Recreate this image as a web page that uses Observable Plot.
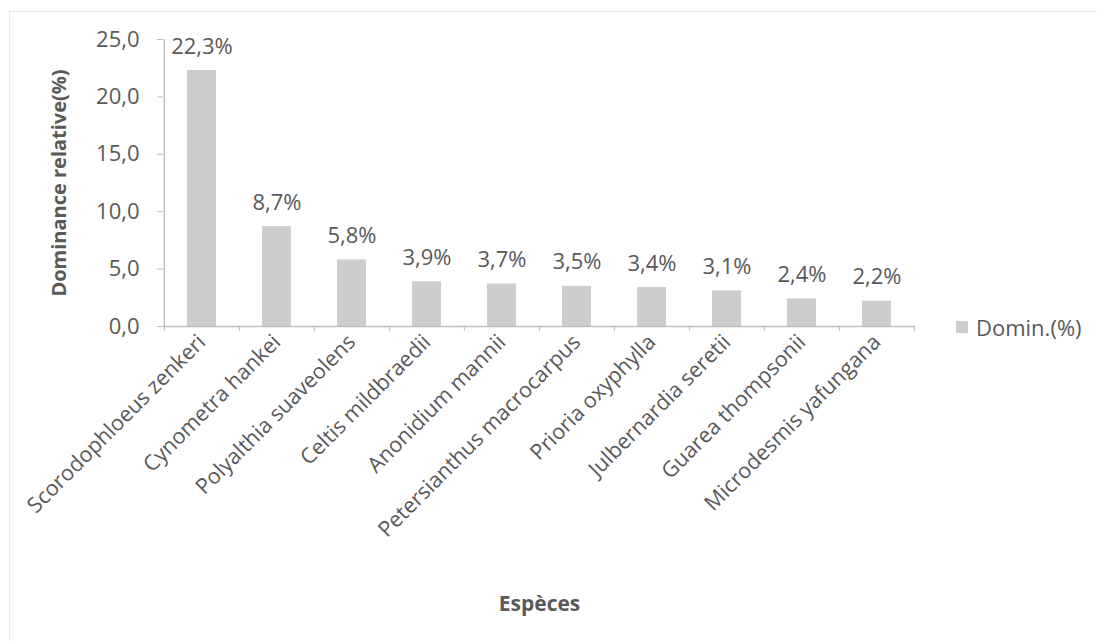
<!DOCTYPE html>
<html>
<head>
<meta charset="utf-8">
<script src="https://cdn.jsdelivr.net/npm/d3@7"></script>
<script src="https://cdn.jsdelivr.net/npm/@observablehq/plot@0.6"></script>
<style>
  html, body { margin: 0; padding: 0; background: #fff; }
  #wrap { position: relative; width: 1099px; height: 643px; overflow: hidden; font-family: "Open Sans", sans-serif; }
  #border { position: absolute; left: 9px; top: 11px; right: 2px; bottom: 2px; border-top: 1px solid #e2e2e2; border-left: 1px solid #e8e8e8; }
  #legend { position: absolute; left: 956px; top: 312px; display: flex; align-items: center; gap: 8px; color: #595959; font-size: 22px; }
  #legend .sw { width: 12px; height: 12px; background: #cdcdcd; }
  svg text { font-family: "Open Sans", sans-serif; }
  g[aria-label="y-axis label"] text { font-weight: bold; font-size: 20px; }
  g[aria-label="x-axis label"] text { font-weight: bold; font-size: 21px; }
</style>
</head>
<body>
<div id="wrap">
  <div id="border"></div>
  <div id="chart"></div>
  <div id="legend"><div class="sw"></div><span>Domin.(%)</span></div>
</div>
<script>
const species = [
  "Scorodophloeus zenkeri", "Cynometra hankei", "Polyalthia suaveolens", "Celtis mildbraedii",
  "Anonidium mannii", "Petersianthus macrocarpus", "Prioria oxyphylla", "Julbernardia seretii",
  "Guarea thompsonii", "Microdesmis yafungana"
];
const values = [22.3, 8.7, 5.8, 3.9, 3.7, 3.5, 3.4, 3.1, 2.4, 2.2];
const yTicks = [0, 5, 10, 15, 20, 25];
const seriesName = "Domin.(%)";
const yLabel = "Dominance relative(%)";
const xLabel = "Espèces";

const data = species.map((s, i) => ({species: s, value: values[i]}));
const fmt = d => d.toFixed(1).replace(".", ",");

const W = 1099, H = 643, ML = 163, MR = 184, MT = 39, MB = 317;
const step = (W - ML - MR) / species.length;
const textColor = "#595959";
const axisColor = "#bfbfbf";

const chart = Plot.plot({
  width: W, height: H,
  marginLeft: ML, marginRight: MR, marginTop: MT, marginBottom: MB,
  style: {fontSize: "22px", color: textColor, background: "transparent", overflow: "visible"},
  x: {type: "band", domain: species, paddingInner: 0.61, paddingOuter: 0.305},
  y: {domain: [0, 25]},
  marks: [
    Plot.barY(data, {x: "species", y: "value", fill: "#cdcdcd"}),
    Plot.text(data, {x: "species", y: "value", text: d => fmt(d.value) + "%", dy: -24, fill: textColor, fontSize: 22}),
    Plot.ruleY([0], {stroke: axisColor, strokeWidth: 1.5}),
    Plot.ruleX([species[0]], {x: d => d, dx: -step / 2, y1: 0, y2: 25, stroke: axisColor, strokeWidth: 1.5}),
    Plot.ruleX(species, {x: d => d, dx: -step / 2, y1: 0, y2: -0.45, stroke: axisColor}),
    Plot.ruleX([species[species.length - 1]], {x: d => d, dx: step / 2, y1: 0, y2: -0.45, stroke: axisColor}),
    Plot.axisY({
      ticks: yTicks, tickFormat: fmt, tickSize: 6, tickPadding: 18, stroke: axisColor,
      fill: textColor, fontSize: 22,
      label: yLabel, labelAnchor: "center", labelOffset: 112, labelArrow: false
    }),
    Plot.axisX({
      tickSize: 0, tickRotate: -45, tickPadding: 12, fill: textColor, fontSize: 21.5,
      label: xLabel, labelAnchor: "center", labelOffset: 284, labelArrow: false
    })
  ]
});
document.getElementById("chart").appendChild(chart);
</script>
</body>
</html>
